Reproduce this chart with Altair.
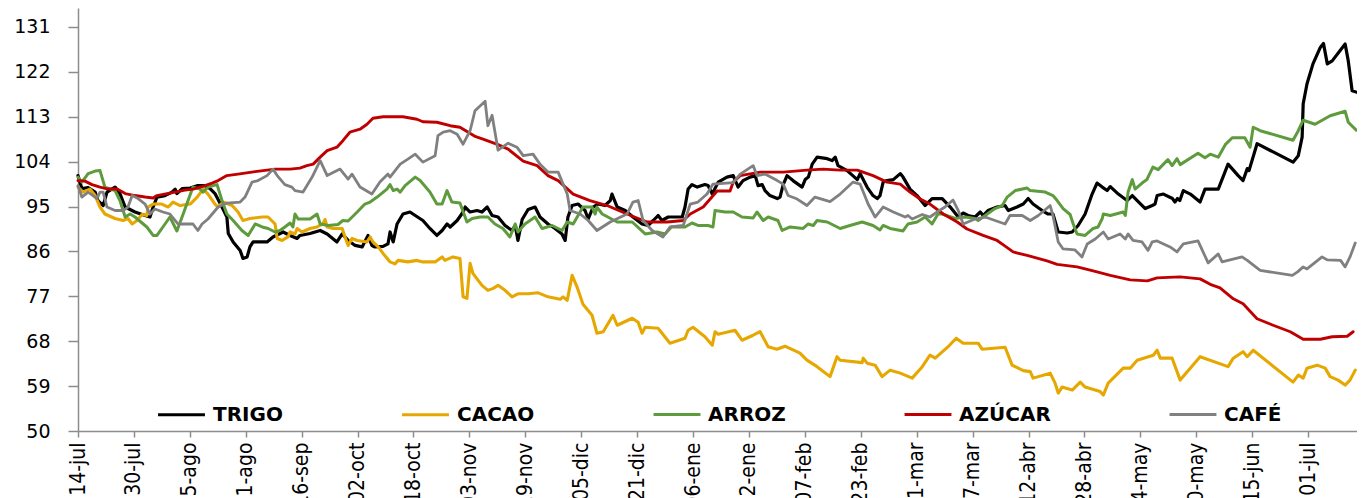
import altair as alt
import pandas as pd

# day offsets from 14-jul, index values
TRIGO = [(0,101.2),(1.1,98.6),(2.9,98.8),(4.9,97.9),(5.7,96.2),(7.2,95.2),(8.3,97.9),(10.6,98.9),(12,97.6),(13.5,94.9),(16.3,93.9),(19.2,93.2),(20.6,92.9),(21.5,94.9),(22.6,96.9),(24.9,97.2),(26.9,97.9),(27.8,98.5),(28.3,97.6),(29.8,98.6),(32.1,98.7),(34.3,99.2),(36.3,99.2),(37.8,98.6),(39.2,97.6),(41.2,94.9),(42.6,92.9),(43,89.6),(44.4,87.9),(46.4,86.2),(47.2,84.6),(48.4,84.9),(49.2,86.9),(50.1,87.9),(54.1,87.9),(55.8,88.9),(58.7,89.9),(60.7,89.2),(62.7,88.6),(63.5,89.2),(66.4,89.6),(69.3,90.2),(71.3,89.5),(74.1,87.9),(75.6,89.5),(77.3,88.2),(79.3,87.2),(81.3,86.9),(83,89.2),(84.1,87.2),(85,86.9),(87.3,87),(88.7,87.5),(89.3,89.9),(90.2,87.9),(91.3,91.5),(93,93.5),(95,93.9),(96.5,93.2),(98.7,92.2),(100.7,90.6),(102.7,89.2),(104.2,90.2),(105.6,91.5),(106.5,90.9),(108.5,92.2),(110.2,93.9),(110.8,94.9),(112.2,93.9),(114.2,94.2),(115.6,93.9),(117.1,94.9),(118.5,93.2),(120.2,92.9),(122.2,91.2),(124.2,90.2),(125.1,91.2),(125.9,88.2),(127.1,92.4),(128.8,94.4),(130.8,94.9),(132.2,92.9),(134.5,91.5),(136.5,90.6),(138.5,89.5),(139.4,88.2),(140.2,92.9),(141.4,95.2),(143.1,95.5),(145.1,94.2),(146,92.5),(147.4,94.9),(148.8,95.5),(150.8,95.2),(152.3,96.2),(152.8,97.5),(154.3,94.9),(156.6,94.2),(158.8,92.9),(161.4,91.5),(163.1,91.2),(164.6,92.2),(166,93.2),(167.1,92.2),(168.9,92.9),(172.9,92.9),(173.7,94.9),(174.6,98.5),(175.7,99.4),(177.2,98.9),(179.4,99.4),(180.3,99.2),(181.5,97.5),(183.2,99.9),(185.7,100.9),(187.5,101.2),(188.9,98.9),(190.3,100.2),(192.3,100.9),(193.8,101.2),(194.6,99.2),(195.8,99.4),(196.6,98.2),(198,97.2),(200.1,96.6),(200.9,96.9),(201.8,99.4),(202.9,101.2),(204.6,100.2),(207.2,98.9),(208.1,100.4),(209,100.9),(210.1,103.5),(211.5,104.9),(214.4,104.6),(215.8,104.2),(216.7,104.9),(217.5,103.2),(220.1,102.2),(223,100.4),(223.8,101.6),(225.8,98.9),(227.5,97.2),(228.7,96.6),(229.5,97.2),(230.4,99.9),(231.5,100.2),(233.3,100.4),(235.3,101.6),(236.1,100.9),(238.1,98.5),(240.1,97.2),(242.4,95.2),(244.4,96.6),(247.3,96.6),(249.6,94.9),(251.9,92.9),(253.3,93.7),(254.7,93.2),(256.7,92.9),(258.2,93.9),(259,93.2),(260.4,94.2),(263,94.9),(265.3,95.2),(266.2,94.2),(268.7,94.9),(270.5,95.5),(271.9,96.6),(273.3,95.5),(275.9,94.2),(277.6,93.5),(279,93.5),(280.5,89.9),(283.1,89.7),(284.5,89.9),(286.2,91.2),(288.2,93.5),(290.2,97.5),(291.6,99.7),(293.1,98.9),(294.5,98.2),(295.4,99),(297.7,97.5),(300.2,96.2),(301.7,97.2),(303.1,96.2),(305.4,94.6),(307.4,95.2),(308.2,95.5),(308.8,97.2),(310.6,97.5),(313.2,96.6),(313.9,95.9),(314.6,96.6),(315.3,96.2),(316.3,98.2),(318.3,97.5),(321.1,95.9),(322.5,98.5),(326.3,98.5),(329.1,103.5),(332,101.2),(333.4,100.2),(334.6,102.6),(335.1,102.2),(337.4,107.6),(347.7,103.9),(349.2,105.2),(350.3,108.9),(350.6,115.6),(351.7,119.6),(353.4,123.6),(355.5,126.9),(356.4,127.7),(357.5,123.6),(358.9,124.2),(362.6,127.6),(363.5,124.2),(364.6,118.2),(366,117.9)]

CACAO = [(0,98.9),(1.4,97.9),(3.4,98.5),(4.9,97.2),(6.3,94.9),(7.7,93.5),(10.6,92.6),(12.9,92.2),(14.3,92.6),(15.5,91.5),(16.9,92.2),(18.3,93.4),(19.7,93.2),(20,94.9),(21.5,95.5),(24,95.5),(25.8,94.9),(27.2,95.9),(29.2,95.2),(32.1,95.5),(34.1,96.9),(35.8,98.5),(37.2,97.5),(39.2,95.5),(40.1,94.9),(41.5,95.9),(44.1,95.2),(45.8,93.9),(47.2,92.2),(49.2,92.6),(52.7,92.9),(54.4,92.9),(56.4,91.5),(57,88.6),(58.4,88.2),(60.1,88.9),(60.7,89.9),(62.1,89.5),(62.7,90.6),(64.1,89.9),(66.4,90.6),(68.4,90.9),(70.1,91.5),(70.7,92.4),(71.3,90.9),(73,90.6),(75.6,90.6),(76.4,88.9),(77.3,87.2),(78.4,88.6),(79.9,88.2),(82.7,87.9),(83.6,88.9),(84.4,87.9),(85.9,86.9),(87.3,85.6),(89.3,83.9),(90.7,83.5),(91.6,84.2),(94.4,83.9),(97,84.2),(98.7,83.9),(102.2,83.9),(104.2,84.9),(105,84.2),(107.3,84.9),(109.3,84.6),(110.2,76.9),(111.3,76.6),(112.2,83.6),(113,81.6),(115.6,79.2),(117.3,78.2),(118.8,78.6),(120.2,79.2),(122.2,78.2),(124.2,76.9),(125.9,77.5),(128.8,77.5),(131.7,77.7),(134.5,76.9),(138,76.4),(138.8,76.9),(140,76.2),(141.4,81.2),(142.8,78.9),(144.5,75.4),(147.1,73.2),(148.5,69.6),(150.3,69.9),(153.1,73.2),(154.3,71.2),(158.6,72.6),(160.3,71.8),(161.4,69.6),(162.3,70.8),(166,70.6),(169.4,67.6),(173.7,68.6),(174.6,70.2),(176,70.8),(179.4,68.9),(181.5,67.2),(182.3,69.9),(183.2,69.4),(188,70.2),(190,68.2),(193.2,69.2),(195.2,69.9),(197.5,66.9),(200,66.4),(202.3,67),(206.6,65.6),(208.6,64.2),(211.5,62.9),(215.2,60.9),(217.2,64.9),(218.1,64.2),(224.4,63.7),(224.7,64.6),(225.8,63.6),(228.1,63.2),(230.1,60.9),(232.4,62.2),(235.3,61.6),(238.7,60.6),(241.6,62.9),(243.8,65.2),(245.3,64.6),(249,66.9),(251.3,68.6),(253.3,67.6),(257.6,67.6),(258.7,66.4),(265.3,66.8),(267.3,63.2),(270.5,62.1),(272.5,61.9),(273.3,60.6),(278.2,61.6),(279.6,59.6),(280.5,57.6),(281.6,58.8),(284.5,58.2),(286.8,59.8),(288.2,58.8),(292.5,57.9),(293.4,57.2),(294.8,59.6),(299.1,62.6),(301.1,62.6),(303.1,64.2),(307.7,65.2),(308.8,66.2),(309.7,64.6),(313.1,64.6),(315.4,60.2),(321.1,64.9),(329.1,62.9),(330.6,64.6),(333.4,65.9),(334.6,64.9),(336.3,66.2),(347.7,59.8),(349.2,61.2),(350.6,60.6),(351.7,62.6),(354.6,63.2),(356.9,62.6),(358.3,60.9),(360.6,60.2),(362.6,59.2),(364,60.2),(365.5,62.2)]

ARROZ = [(0,100.9),(1.1,99.9),(2.9,101.6),(4.9,102.1),(6.3,102.2),(7.7,98.9),(10.6,98.2),(12,96.2),(13.5,92.9),(14.9,93.5),(16.3,92.9),(19.7,90.9),(21.5,89.2),(22.6,89.2),(24.9,91.5),(26.3,92.9),(28.3,90.1),(30.1,93.5),(31.5,96.2),(32.9,98.9),(34.9,98.5),(35.8,97.9),(37.2,98.9),(39.8,99.4),(41.2,96.2),(42.6,93.5),(44.4,92.2),(46.9,90.2),(48.7,89.2),(50.7,91.5),(52.7,90.9),(54.4,90.6),(56.4,89.9),(57.8,90.2),(59.2,90.9),(60.7,91.7),(61.5,90.9),(62.1,93.5),(63,92.5),(66.4,92.5),(68.4,93.5),(69.3,91.5),(71.6,91.2),(74.4,91.4),(75.8,92.2),(77.3,92.1),(79.9,93.9),(82.1,95.5),(83.6,95.9),(85.6,96.9),(88.4,98.5),(89.3,99.4),(90.2,98.2),(91.3,98.5),(92.2,97.9),(93.6,99.2),(96.5,100.9),(97.9,100.2),(100.7,97.9),(102.7,95.5),(104.2,95.5),(105.6,98.2),(107,95.9),(109.3,95.7),(111.3,91.9),(112.8,92.6),(115.1,92.9),(117.3,92.9),(119.3,91.5),(121.6,90.6),(123.6,88.9),(125.1,91.5),(125.9,89.9),(127.9,91.5),(130.8,92.9),(132.8,90.6),(135.7,91.2),(138.5,90.2),(140,91.9),(141.7,91.5),(144.5,94.9),(147.1,94.9),(148,93.5),(148.5,94.9),(150,93.5),(154.3,91.9),(158.6,91.9),(162.3,89.5),(165.7,89.9),(168,89.5),(169.8,90.9),(173.7,90.9),(175.7,91.7),(177.4,91.2),(180.3,91.2),(181.7,90.9),(182.3,94.2),(185.2,93.9),(187.5,93.9),(190,92.9),(193.2,92.7),(194.3,93.9),(196.1,92.2),(197.5,92.9),(200.3,92.2),(201.5,90.2),(203.8,90.9),(207.5,90.6),(208.9,91.5),(210.4,91.2),(211.5,92.2),(214.4,91.9),(218.1,90.6),(220.9,91.2),(224.4,91.9),(227.5,91.2),(229.5,90.3),(230.4,91.2),(232.4,90.6),(236.1,90.1),(237.5,91.5),(240.1,91.9),(242.4,92.9),(244.4,91.5),(246.1,93.5),(247.3,93.5),(251,92.6),(253.9,92.9),(256.7,92.6),(257.6,92.2),(259.6,93.2),(262.4,94.6),(264.5,95.2),(265.9,96.9),(268.2,98.2),(271.6,98.7),(272.5,98.2),(276.8,97.9),(279,97.2),(280.2,96.2),(281.9,94.6),(283.9,93.4),(284.8,91.5),(285.9,89.5),(288.2,89.2),(290.5,90.6),(291.9,90.9),(293.1,92.6),(293.4,93.5),(295.4,93.2),(299.1,93.9),(299.7,93.2),(300.5,97.9),(301.7,100.4),(302.5,98.5),(304.5,99.7),(305.9,100.4),(306.2,100.9),(307.6,102.9),(309.1,102.4),(311.9,104.4),(313.1,103.2),(314.5,104.6),(315.4,103.4),(320.5,105.7),(322.5,104.8),(324,105.5),(326.3,104.9),(328.3,107.4),(330.3,108.8),(333.9,108.8),(335.4,106.9),(336.3,110.9),(338.3,110.2),(347.7,108.3),(349.2,110.2),(350.6,112.3),(354,111.5),(358.3,113.2),(362.6,114.1),(363.5,111.9),(365.8,110.3)]

AZUCAR = [(0,100.2),(2,100.1),(4,99.4),(6.3,98.9),(8.6,98.5),(11.2,98.5),(13.5,97.6),(16.3,97.2),(19.2,96.9),(21.5,96.7),(22.6,97.2),(25.5,97.6),(27.8,97.9),(30.6,98.3),(32.9,98.5),(35.5,99),(38.4,99.7),(40.1,100.2),(42.6,101.2),(45.8,101.5),(50.7,102),(56.4,102.5),(60.7,102.5),(63.5,102.7),(65.5,103.2),(67.3,103.5),(69.3,104.9),(71.3,106.2),(74.1,106.9),(75.8,108.2),(77.8,109.9),(80.7,110.5),(82.7,111.5),(84.4,112.7),(87.3,113),(93,113),(97,112.5),(98.7,112),(102.7,111.9),(106.5,111.2),(109.3,110.9),(113.8,109),(115.9,108.5),(120.2,107.4),(123.1,106.5),(127.4,104.1),(131.4,103.2),(134.5,101.2),(137.4,100.2),(141.7,97.5),(146.5,96.2),(151.4,95.2),(157.1,93.5),(162.9,91.9),(168.6,91.9),(173.2,92.2),(175.2,93.5),(178.9,94.9),(182.9,98.1),(186.6,98.1),(187.5,99.9),(189.5,101.2),(195.2,101.9),(201.8,101.9),(208.6,102.3),(213.2,102.5),(218.1,102.3),(223,102.3),(227.5,101.2),(231.5,99.9),(235.3,99.5),(238.1,97.9),(241,96.5),(243.8,95.5),(247.6,93.5),(251.6,91.9),(254.4,90.5),(259,89.2),(263,88.2),(265,87.2),(267.6,85.9),(271.6,85.2),(277.3,84.1),(280.2,83.4),(285.9,82.9),(290.5,82.1),(295.4,81.2),(301.1,80.3),(306,80.1),(308.8,80.7),(315.4,80.9),(321.1,80.5),(324,79.4),(326.8,78.7),(330.6,76.5),(333.4,75.5),(337.4,72.5),(342,71.2),(346.9,69.9),(350.6,68.4),(355.5,68.4),(358.9,68.9),(363.2,69),(364.9,69.9)]

CAFE = [(0,99.2),(1.1,96.9),(2.9,97.9),(4.3,97.2),(5.4,96.6),(6.3,97.9),(7.2,97.9),(8.3,94.9),(10.6,94.2),(12.9,94.2),(14.3,94.9),(15.5,97.2),(17.2,96.6),(19.2,95.5),(20.6,93.5),(22,94.5),(24.3,93.9),(26.3,93.5),(28.6,91.5),(32.9,91.5),(34.3,90.2),(35.5,91.5),(37.2,92.5),(40.1,94.9),(42.6,95.7),(46.4,95.9),(47.8,96.9),(49.8,99.9),(51.5,100.2),(54.1,101.2),(55.8,102.5),(57,101.2),(59.2,99.4),(61.2,98.9),(62.1,98.2),(64.4,97.9),(67,100.9),(69.3,104.2),(71.3,101.2),(75,102.5),(77.3,100.5),(78.4,101.5),(80.7,98.9),(84.1,97.5),(86.4,99.9),(88.7,101.5),(89.3,100.9),(92.2,103.5),(94.4,104.5),(96.5,105.5),(98.7,103.9),(102.2,105.2),(103,109.2),(104.5,109.9),(106.5,110.2),(108.5,109.5),(110.2,107.5),(112.2,110.2),(113.6,114.2),(116.5,116.1),(117.3,111.2),(118.5,113.3),(120.2,106.3),(123.1,107.7),(125.6,106.9),(127.4,105.2),(130.2,105.5),(132.2,103.5),(134.5,101.9),(137.4,101.9),(140,97.5),(140.8,94.2),(143.7,93.5),(146,92.2),(148.5,90.2),(152.3,91.9),(157.1,93.5),(158.8,95.9),(160.3,96.2),(161.7,92.2),(164.3,90.2),(167.4,88.9),(169.4,90.9),(173.2,91.2),(175.2,95.5),(177.4,95.9),(180,97.5),(181.7,99.5),(187.5,99.8),(189.5,101.5),(193.2,103.2),(194.3,101.2),(196.6,101.5),(200.1,100.2),(201.8,99.5),(203.2,97.2),(205.8,96.5),(208.6,95.2),(210.9,96.9),(215.2,96),(218.1,97.5),(221.8,99.9),(223.8,99.5),(226.1,95.5),(228.1,92.9),(230.4,94.9),(233.3,93.9),(236.7,92.9),(237.5,93.2),(238.7,92.5),(241.6,93.4),(243.8,92.9),(245.8,93.9),(248.1,94.9),(250.4,96.3),(251.9,94.2),(253.3,91.5),(256.7,92.5),(259.6,92.9),(262.4,92.2),(265.3,91.5),(266.7,93.2),(270.2,93.2),(272.5,92.2),(274.8,93.2),(278.2,95.2),(279,93.2),(280.5,87.9),(281.9,86.5),(285.3,86.3),(287.3,84.9),(288.8,87.5),(291.1,88.5),(293.4,89.9),(294.8,88.5),(298.2,89.5),(299.7,88.5),(300.5,89.5),(301.9,88.2),(304.5,87.9),(306.2,86.2),(307.4,87.9),(308.8,88.1),(312.5,86.9),(314.5,85.9),(316.3,87.5),(320.5,88.1),(323.4,83.7),(326.3,85.5),(327.4,83.9),(333.1,84.9),(334.6,84.2),(338.3,82.2),(347.5,81.2),(349,81.9),(350.6,82.9),(351.7,82.5),(356,84.9),(357.5,84.3),(361.3,84.2),(362.6,82.9),(364,84.9),(365.5,87.7)]

SERIES = ["TRIGO", "CACAO", "ARROZ", "AZÚCAR", "CAFÉ"]
COLORS = ["#000000", "#E6A800", "#5E9B3C", "#C00000", "#808080"]
WIDTHS = [3.2, 2.8, 2.8, 2.3, 2.8]
Y_TICKS = [50, 59, 68, 77, 86, 95, 104, 113, 122, 131]
X_TICK_DAYS = list(range(0, 353, 16))
X_LABELS = ["14-jul", "30-jul", "15-ago", "31-ago", "16-sep", "02-oct", "18-oct",
            "03-nov", "19-nov", "05-dic", "21-dic", "06-ene", "22-ene", "07-feb",
            "23-feb", "11-mar", "27-mar", "12-abr", "28-abr", "14-may", "30-may",
            "15-jun", "01-jul"]

rows = []
for name, pts in zip(SERIES, [TRIGO, CACAO, ARROZ, AZUCAR, CAFE]):
    for i, (d, v) in enumerate(pts):
        rows.append({"serie": name, "dia": d, "valor": v, "orden": i})
df = pd.DataFrame(rows)

label_expr = "[" + ",".join("'%s'" % s for s in X_LABELS) + "][round(datum.value/16)]"

chart = alt.Chart(df).mark_line(strokeJoin="round", strokeCap="round").encode(
    x=alt.X("dia:Q",
            scale=alt.Scale(domain=[0, 366], nice=False, zero=False),
            axis=alt.Axis(values=X_TICK_DAYS, labelExpr=label_expr, title=None,
                          labelAngle=270, labelAlign="right", labelBaseline="middle",
                          labelFont="Liberation Sans Narrow, DejaVu Sans Condensed, sans-serif",
                          labelFontSize=21, labelColor="#000000", labelPadding=5,
                          tickSize=6, tickColor="#8c8c8c", domainColor="#8c8c8c",
                          domainWidth=1.5, tickWidth=1.5, grid=False, labelOverlap=False)),
    y=alt.Y("valor:Q",
            scale=alt.Scale(domain=[50, 134.8], nice=False, zero=False),
            axis=alt.Axis(values=Y_TICKS, title=None, labelFont="DejaVu Sans",
                          labelFontSize=19, labelColor="#000000", labelPadding=18,
                          tickSize=10, tickColor="#8c8c8c", domainColor="#8c8c8c",
                          domainWidth=1.5, tickWidth=1.5, grid=False)),
    color=alt.Color("serie:N", scale=alt.Scale(domain=SERIES, range=COLORS),
                    legend=alt.Legend(title=None, orient="none", direction="horizontal",
                                      legendX=78, legendY=381,
                                      symbolType="stroke", symbolSize=2200,
                                      symbolStrokeWidth=2.5, labelFont="DejaVu Sans",
                                      labelFontWeight="bold", labelFontSize=20,
                                      labelColor="#000000", labelOffset=6,
                                      columnPadding=112, padding=0)),
    strokeWidth=alt.StrokeWidth("serie:N", scale=alt.Scale(domain=SERIES, range=WIDTHS),
                                legend=None),
    order="orden:Q",
).properties(
    width=1279, height=423,
    autosize=alt.AutoSizeParams(type="none"),
    padding={"left": 70, "top": 0, "right": 0, "bottom": 67},
).configure_view(stroke=None)

chart.save("out.html", embed_options={"renderer": "svg", "actions": False})
